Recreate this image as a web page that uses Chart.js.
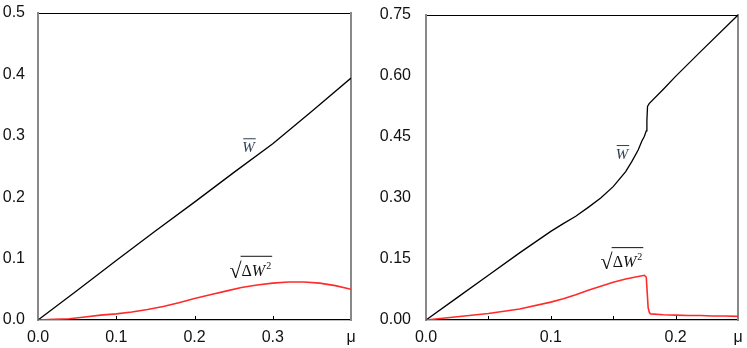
<!DOCTYPE html>
<html>
<head>
<meta charset="utf-8">
<script src="https://cdn.jsdelivr.net/npm/chart.js@4.4.1/dist/chart.umd.min.js"></script>
<style>
  html, body { margin: 0; padding: 0; background: #fff; }
  body { width: 747px; height: 348px; position: relative; overflow: hidden; }
  canvas { position: absolute; top: 0; }
  #left { left: 0; }
  #right { left: 375px; }
</style>
</head>
<body>
<canvas id="left" width="375" height="348"></canvas>
<canvas id="right" width="372" height="348"></canvas>
<script>
// ---- left panel data ----
const muA   = [0, 0.05, 0.1, 0.15, 0.2, 0.25, 0.3, 0.35, 0.4];
const wA    = [0, 0.048, 0.097, 0.145, 0.192, 0.24, 0.287, 0.34, 0.394];
const muDA  = [0, 0.02, 0.04, 0.06, 0.08, 0.1, 0.12, 0.14, 0.16, 0.18, 0.2, 0.22, 0.24, 0.26, 0.28, 0.3, 0.32, 0.34, 0.36, 0.38, 0.4];
const dwA   = [0, 0.001, 0.002, 0.005, 0.008, 0.010, 0.013, 0.017, 0.022, 0.028, 0.035, 0.041, 0.047, 0.053, 0.057, 0.060, 0.062, 0.062, 0.060, 0.056, 0.050];
const yTicksA = [0, 0.1, 0.2, 0.3, 0.4, 0.5];
const xTicksA = ['0.0', '0.1', '0.2', '0.3', 'μ'];

// ---- right panel data ----
const muB   = [0, 0.025, 0.05, 0.075, 0.1, 0.11, 0.12, 0.13, 0.14, 0.15, 0.16, 0.165, 0.17, 0.173, 0.175, 0.1765, 0.177, 0.1775, 0.1788, 0.19, 0.2, 0.22, 0.25];
const wB    = [0, 0.055, 0.11, 0.165, 0.218, 0.237, 0.255, 0.277, 0.300, 0.328, 0.365, 0.39, 0.418, 0.44, 0.452, 0.465, 0.49, 0.525, 0.532, 0.567, 0.599, 0.66, 0.75];
const muDB  = [0, 0.025, 0.05, 0.075, 0.1, 0.11, 0.12, 0.13, 0.14, 0.15, 0.16, 0.17, 0.175, 0.1765, 0.178, 0.179, 0.18, 0.19, 0.2, 0.21, 0.22, 0.23, 0.24, 0.25];
const dwB   = [0, 0.008, 0.016, 0.027, 0.044, 0.052, 0.062, 0.073, 0.083, 0.093, 0.101, 0.107, 0.110, 0.105, 0.03, 0.018, 0.015, 0.013, 0.012, 0.011, 0.011, 0.010, 0.010, 0.009];
const yTicksB = [0, 0.15, 0.3, 0.45, 0.6, 0.75];
const xTicksB = ['0.0', '', '0.1', '', '0.2', 'μ'];

const FONT = '"Liberation Sans", Arial, sans-serif';
const SERIF = '"Liberation Serif", "DejaVu Serif", serif';

const pts = (xs, ys) => xs.map((x, i) => ({ x, y: ys[i] }));

// short inward tick marks on the bottom axis + the curve labels
const decor = {
  id: 'decor',
  afterDatasetsDraw(chart, args, opts) {
    const { ctx, scales: { x, y } } = chart;
    ctx.save();
    ctx.strokeStyle = '#000';
    ctx.lineWidth = 1;
    x.ticks.forEach(t => {
      if (t.value <= x.min + 1e-9 || t.value >= x.max - 1e-9) return;
      const px = Math.round(x.getPixelForValue(t.value)) + 0.5;
      ctx.beginPath();
      ctx.moveTo(px, y.bottom);
      ctx.lineTo(px, y.bottom - 4);
      ctx.stroke();
    });

    // W with bar
    let cx = x.getPixelForValue(opts.wLabel[0]);
    let by = y.getPixelForValue(opts.wLabel[1]);
    ctx.font = 'italic 15px ' + SERIF;
    ctx.fillStyle = '#2e3f52';
    ctx.textAlign = 'center';
    ctx.textBaseline = 'alphabetic';
    ctx.fillText('W', cx, by);
    const ww = ctx.measureText('W').width;
    ctx.strokeStyle = '#2e3f52';
    ctx.beginPath();
    ctx.moveTo(cx - ww / 2 + 1, by - 13);
    ctx.lineTo(cx + ww / 2 + 1, by - 13);
    ctx.stroke();

    // sqrt of mean dW^2
    cx = x.getPixelForValue(opts.dLabel[0]);
    by = y.getPixelForValue(opts.dLabel[1]);
    ctx.fillStyle = '#111';
    ctx.strokeStyle = '#111';
    ctx.textAlign = 'left';
    ctx.font = '22px ' + SERIF;
    const wr = ctx.measureText('√').width;
    ctx.font = '16px ' + SERIF;
    const wd = ctx.measureText('Δ').width;
    ctx.font = 'italic 16px ' + SERIF;
    const wW = ctx.measureText('W').width;
    ctx.font = '10px ' + SERIF;
    const w2 = ctx.measureText('2').width;
    const total = wr + wd + wW + w2 + 2;
    let px = cx - total / 2;
    const x0 = px;
    ctx.font = '22px ' + SERIF;
    ctx.fillText('√', px, by + 2);
    px += wr;
    ctx.font = '16px ' + SERIF;
    ctx.fillText('Δ', px, by);
    px += wd;
    ctx.font = 'italic 16px ' + SERIF;
    ctx.fillText('W', px, by);
    px += wW + 1;
    ctx.font = '10px ' + SERIF;
    ctx.fillText('2', px, by - 7);
    ctx.beginPath();
    ctx.moveTo(x0 + wr - 1, by - 19.5);
    ctx.lineTo(x0 + total, by - 19.5);
    ctx.stroke();
    ctx.restore();
  }
};

function makeChart(id, cfg) {
  return new Chart(document.getElementById(id), {
    type: 'line',
    data: {
      datasets: [
        { data: pts(cfg.muD, cfg.dw), borderColor: '#ff2b2b', borderWidth: 1.6, pointRadius: 0, tension: 0 },
        { data: pts(cfg.mu, cfg.w), borderColor: '#000', borderWidth: 1.3, pointRadius: 0, tension: 0 }
      ]
    },
    plugins: [decor],
    options: {
      responsive: false,
      animation: false,
      devicePixelRatio: 1,
      layout: { padding: { top: 8, right: cfg.padRight, left: 0, bottom: 0 } },
      plugins: {
        legend: { display: false },
        tooltip: { enabled: false },
        decor: { wLabel: cfg.wLabel, dLabel: cfg.dLabel }
      },
      scales: {
        x: {
          type: 'linear', position: 'bottom',
          min: 0, max: cfg.xMax,
          grid: { display: false },
          border: { display: true, color: '#000', width: 1.3 },
          ticks: {
            stepSize: cfg.xStep, autoSkip: false, maxRotation: 0, padding: 0,
            color: '#111', font: { family: FONT, size: 16 },
            callback: (v, i) => cfg.xTicks[i]
          },
          afterFit: s => { s.height = 28; }
        },
        xTop: {
          type: 'linear', position: 'top',
          min: 0, max: cfg.xMax,
          grid: { display: false },
          border: { display: true, color: '#000', width: 1 },
          ticks: { display: false },
          afterFit: s => { s.height = 0; }
        },
        y: {
          min: 0, max: cfg.yMax,
          grid: { display: false },
          border: { display: true, color: '#888', width: 2 },
          afterBuildTicks: s => { s.ticks = cfg.yTicks.map(v => ({ value: v })); },
          ticks: {
            padding: cfg.yPad, color: '#111',
            font: { family: FONT, size: 16, lineHeight: 1 },
            callback: v => v.toFixed(cfg.yDigits)
          },
          afterFit: s => { s.width = cfg.yWidth; }
        },
        yRight: {
          position: 'right',
          min: 0, max: cfg.yMax,
          grid: { display: false },
          border: { display: true, color: '#888', width: 2 },
          ticks: { display: false },
          afterFit: s => { s.width = 0; }
        }
      }
    }
  });
}

makeChart('left', {
  mu: muA, w: wA, muD: muDA, dw: dwA,
  xMax: 0.4, xStep: 0.1, xTicks: xTicksA,
  yMax: 0.5, yTicks: yTicksA, yDigits: 1,
  yWidth: 38, yPad: 5, padRight: 24,
  wLabel: [0.269, 0.274], dLabel: [0.272, 0.072]
});

makeChart('right', {
  mu: muB, w: wB, muD: muDB, dw: dwB,
  xMax: 0.25, xStep: 0.05, xTicks: xTicksB,
  yMax: 0.75, yTicks: yTicksB, yDigits: 2,
  yWidth: 51, yPad: 7, padRight: 9,
  wLabel: [0.157, 0.397], dLabel: [0.157, 0.13]
});
</script>
</body>
</html>
